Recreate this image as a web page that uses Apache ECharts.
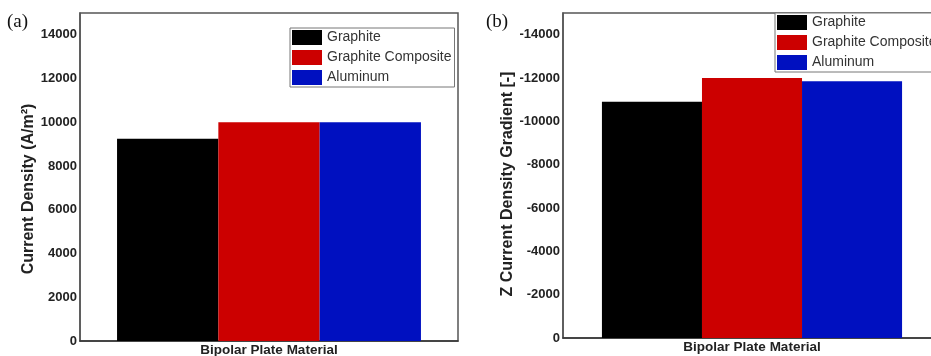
<!DOCTYPE html>
<html>
<head>
<meta charset="utf-8">
<script src="https://cdn.jsdelivr.net/npm/echarts@6/dist/echarts.min.js"></script>
<style>
html,body{margin:0;padding:0;background:#fff;overflow:hidden;}
#c{width:945px;height:356px;}
</style>
</head>
<body>
<div id="c"></div>
<script>
var categories = ['Bipolar Plate Material'];
var seriesNames = ['Graphite', 'Graphite Composite', 'Aluminum'];
var currentDensity = [9250, 10000, 10000];
var zGradient = [-10900, -12000, -11850];
var colors = ['#000000', '#cc0000', '#0010c0'];

var chart = echarts.init(document.getElementById('c'));
var font = 'Arial, "Liberation Sans", sans-serif';

function mkSeries(vals, idx, gap) {
  return seriesNames.map(function (n, i) {
    return {
      name: n, type: 'bar', xAxisIndex: idx, yAxisIndex: idx,
      data: [vals[i]], barGap: '0%', barCategoryGap: gap,
      itemStyle: { color: colors[i] }
    };
  });
}

var labelStyle = {
  fontFamily: font, fontWeight: 'bold', fontSize: 13, color: '#222', margin: 3,
  formatter: function (v) { return String(v); }
};
var legendCommon = {
  orient: 'vertical', itemWidth: 30, itemHeight: 15, itemGap: 5,
  borderColor: '#777', borderWidth: 1, backgroundColor: '#fff',
  padding: [2, 3, 2, 2], icon: 'rect',
  textStyle: { fontFamily: font, fontSize: 14, color: '#333' },
  data: seriesNames
};

chart.setOption({
  animation: false,
  backgroundColor: '#fff',
  graphic: [
    { type: 'text', left: 7, top: 13, style: { text: '(a)', font: '19px "Liberation Serif", "Times New Roman", serif', fill: '#111' } },
    { type: 'text', left: 486, top: 13, style: { text: '(b)', font: '19px "Liberation Serif", "Times New Roman", serif', fill: '#111' } }
  ],
  grid: [
    { left: 80, top: 13, width: 378, height: 328, show: true, borderColor: '#555', borderWidth: 1.5, outerBoundsMode: 'none', containLabel: false },
    { left: 563, top: 13, width: 378, height: 325, show: true, borderColor: '#555', borderWidth: 1.5, outerBoundsMode: 'none', containLabel: false }
  ],
  legend: [
    Object.assign({ left: 290, top: 28 }, legendCommon),
    Object.assign({ left: 775, top: 13 }, legendCommon)
  ],
  xAxis: [0, 1].map(function (i) {
    return {
      type: 'category', gridIndex: i, data: categories,
      axisLabel: { show: false }, axisTick: { show: false },
      axisLine: { lineStyle: { color: '#333', width: 1.5 } },
      name: categories[0], nameLocation: 'middle', nameGap: 2,
      nameTextStyle: { fontFamily: font, fontWeight: 'bold', fontSize: 13.5, color: '#222' }
    };
  }),
  yAxis: [
    {
      type: 'value', gridIndex: 0, min: 0, max: 15000, splitNumber: 7,
      splitLine: { show: false }, axisTick: { show: false },
      axisLine: { show: true, lineStyle: { color: '#555', width: 1.5 } },
      axisLabel: Object.assign({ showMaxLabel: false }, labelStyle),
      name: 'Current Density (A/m²)', nameLocation: 'middle', nameGap: 41,
      nameTextStyle: { fontFamily: font, fontWeight: 'bold', fontSize: 16, color: '#222', padding: [0, 24, 0, 0] }
    },
    {
      type: 'value', gridIndex: 1, min: -15000, max: 0, splitNumber: 7, inverse: true,
      splitLine: { show: false }, axisTick: { show: false },
      axisLine: { show: true, lineStyle: { color: '#555', width: 1.5 } },
      axisLabel: Object.assign({ showMinLabel: false }, labelStyle),
      name: 'Z Current Density Gradient [-]', nameLocation: 'middle', nameGap: 40,
      nameTextStyle: { fontFamily: font, fontWeight: 'bold', fontSize: 16, color: '#222', padding: [0, 17, 0, 0] }
    }
  ],
  series: mkSeries(currentDensity, 0, '19.6%').concat(mkSeries(zGradient, 1, '20.6%'))
});
</script>
</body>
</html>
